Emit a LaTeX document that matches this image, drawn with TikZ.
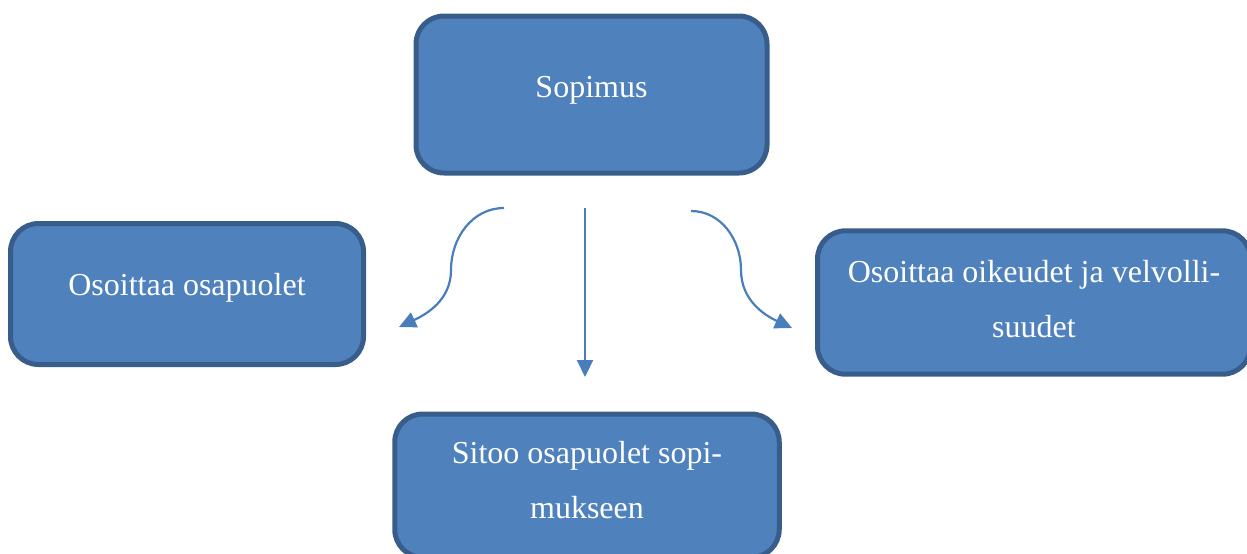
\documentclass[tikz,border=0pt]{standalone}
\usepackage{fontspec}
\setmainfont{Liberation Serif}
\usetikzlibrary{arrows.meta,positioning}
\definecolor{boxblue}{HTML}{4F81BD}
\definecolor{boxedge}{HTML}{385D8A}
\definecolor{arrowblue}{HTML}{4A7EBB}
\newcommand{\topstrut}{\rule{0pt}{12pt}}
\newcommand{\botstrut}[1]{\rule[-#1]{0pt}{#1}}

\begin{document}
\begin{tikzpicture}[x=0.5pt,y=0.5pt]

\tikzset{>={Triangle[width=8pt,length=8.5pt]}}
\tikzset{blok/.style={rectangle,rounded corners=14pt,fill=boxblue,draw=boxedge,line width=2.5pt,text=white,align=center,inner sep=0pt,font=\fontsize{16}{27.5}\selectfont}}

\useasboundingbox (0,0) rectangle (1247,-553);
\clip (0,0) rectangle (1247,-553);

\node[blok] at (591.5,-94.5) [name=sop,minimum width=175.5pt,minimum height=78.5pt] {\topstrut Sopimus\botstrut{8.8pt}};

%===================================================================
\node[blok] at (187,-294) [name=osa,minimum width=176.5pt,minimum height=70.5pt] {\topstrut Osoittaa osapuolet\botstrut{10.3pt}};
\node[blok] at (1034,-302.5) [name=velv,minimum width=216.5pt,minimum height=71.7pt] {\topstrut Osoittaa oikeudet ja velvolli-\\suudet\botstrut{4.3pt}};
\node[blok] at (587,-485.7) [name=sito,minimum width=192.25pt,minimum height=71.7pt] {\topstrut Sitoo osapuolet sopi-\\mukseen\botstrut{6.9pt}};

%===================================================================
\coordinate (osaa) at (504,-208);
\coordinate (osab) at (451,-270);
\coordinate (osac) at (399,-327);
\coordinate (sitoa) at (585,-208);
\coordinate (sitob) at (585,-377);
\coordinate (velva) at (691,-211);
\coordinate (velvb) at (741,-270);
\coordinate (velvc) at (792,-328);

\draw[->,arrowblue,line width=1.1pt] (osaa) to[out=180,in=90] (osab) to[out=-90,in=25] (osac);
\draw[->,arrowblue,line width=1.1pt] (sitoa)--(sitob);
\draw[->,arrowblue,line width=1.1pt] (velva) to[out=0,in=90] (velvb) to[out=-90,in=155] (velvc);
\end{tikzpicture}
\end{document}
